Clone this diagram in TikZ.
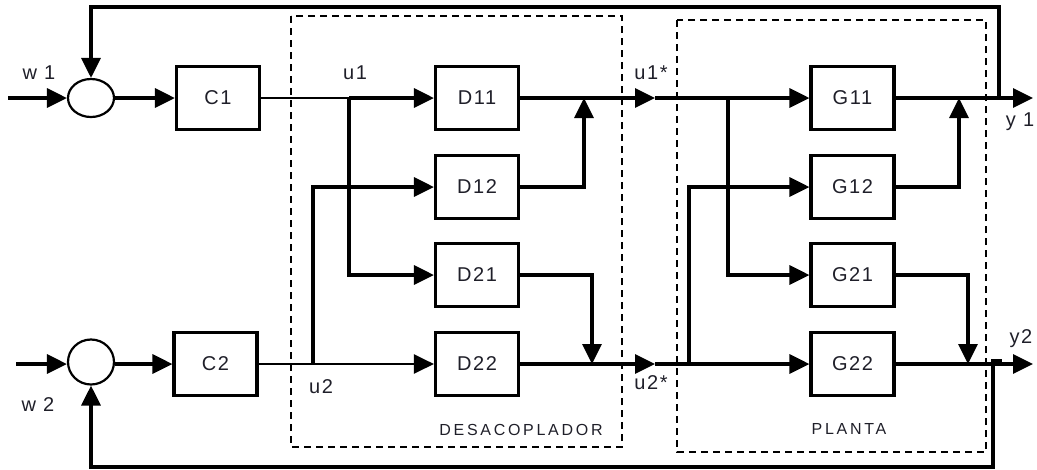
\documentclass[tikz,border=0pt]{standalone}
\usepackage{fontspec}
\setmainfont{Liberation Sans}
\usetikzlibrary{arrows.meta,shapes.geometric}
\newcommand\lblfont{\fontsize{20}{22}\selectfont\addfontfeatures{LetterSpace=8}}
\newcommand\capfont{\fontsize{16}{18}\selectfont\addfontfeatures{LetterSpace=17}}
\definecolor{textc}{rgb}{0.12,0.12,0.16}
\begin{document}
\begin{tikzpicture}[x=1pt,y=-1pt,
  blk/.style={draw, line width=3.2pt, minimum width=83pt, minimum height=63pt, inner sep=0pt, font=\lblfont, text=textc},
  sumnode/.style={draw, ellipse, line width=2.2pt, minimum width=46pt, inner sep=0pt},
  lbl/.style={font=\lblfont, text=textc, inner sep=0pt},
  captxt/.style={font=\capfont, text=textc, inner sep=0pt},
  sig/.style={line width=3.2pt},
  thinsig/.style={line width=1.8pt},
  arr/.style={-{Triangle[length=20pt,width=19pt]}},
  grp/.style={draw, dash pattern=on 7pt off 5pt, line width=2.2pt}
]
\useasboundingbox (0,0) rectangle (1037,469);

% dashed groups
\draw[grp] (291,16) rectangle (622,447);
\draw[grp] (677,20) rectangle (986,452);
\node[captxt] (desac) at (521,430) {DESACOPLADOR};
\node[captxt] (planta) at (849,429) {PLANTA};

% summing junctions
\node[sumnode, minimum height=38pt] (s1) at (91,98) {};
\node[sumnode, minimum height=45pt] (s2) at (91,362) {};

% controllers
\node[blk] (C1) at (218,98) {C1};
\node[blk] (C2) at (215.5,364) {C2};

% decoupler
\node[blk] (D11) at (477,98) {D11};
\node[blk] (D12) at (477,187) {D12};
\node[blk] (D21) at (477,275) {D21};
\node[blk] (D22) at (477,364) {D22};

% plant
\node[blk] (G11) at (852.5,98) {G11};
\node[blk] (G12) at (852.5,187) {G12};
\node[blk] (G21) at (852.5,275) {G21};
\node[blk] (G22) at (852.5,364) {G22};

% labels
\node[lbl] (lw1) at (39,73) {w 1};
\node[lbl] (lw2) at (38,405) {w 2};
\node[lbl] (lu1) at (355,73) {u1};
\node[lbl] (lu2) at (321,387) {u2};
\node[lbl] (lu1s) at (651,73) {u1*};
\node[lbl] (lu2s) at (651,383) {u2*};
\node[lbl] (ly1) at (1020,122) {y 1};
\node[lbl] (ly2) at (1021,339) {y2};

% coordinates
\coordinate (w1in) at (8,98);
\coordinate (w2in) at (16,364);
\coordinate (u1j) at (349,98);
\coordinate (u2j) at (313,364);
\coordinate (jA) at (584,98);
\coordinate (jB) at (592,364);
\coordinate (u1s) at (655,98);
\coordinate (u2s) at (655,364);
\coordinate (g1j) at (728,98);
\coordinate (g2j) at (689,364);
\coordinate (jC) at (959,98);
\coordinate (jD) at (968,364);
\coordinate (y1end) at (1033,98);
\coordinate (y2end) at (1033,364);
\coordinate (y1tap) at (999,98);
\coordinate (tc) at (999,7);
\coordinate (y2tap) at (1002,361);
\coordinate (y2c) at (993,361);
\coordinate (bc) at (993,467);

% inputs
\draw[sig,arr] (w1in) -- (s1.west);
\draw[sig,arr] (w2in) -- (s2.west |- w2in);
\draw[sig,arr] (s1.east) -- (C1.west);
\draw[sig,arr] (s2.east |- C2.west) -- (C2.west);

% controller outputs
\draw[line width=2.4pt] (C1.east) -- (u1j);
\draw[sig,arr] (u1j) -- (D11.west);
\draw[thinsig] (C2.east) -- (u2j);
\draw[line width=2.8pt,arr] (u2j) -- (D22.west);
\draw[sig,arr] (u1j) |- (D21.west);
\draw[sig,arr] (u2j) |- (D12.west);

% decoupler outputs
\draw[sig,arr] (D11.east) -- (u1s);
\draw[sig,arr] (u1s) -- (G11.west);
\draw[sig,arr] (D12.east) -| (jA);
\draw[sig,arr] (D21.east) -| (jB);
\draw[sig,arr] (D22.east) -- (u2s);
\draw[sig,arr] (u2s) -- (G22.west);

% plant inputs
\draw[sig,arr] (g1j) |- (G21.west);
\draw[sig,arr] (g2j) |- (G12.west);

% plant outputs
\draw[sig,arr] (G11.east) -- (y1end);
\draw[sig,arr] (G12.east) -| (jC);
\draw[sig,arr] (G21.east) -| (jD);
\draw[sig,arr] (G22.east) -- (y2end);

% feedback
\draw[sig,arr] (y1tap) -- (tc) -| (s1.north);
\draw[sig,arr] (y2tap) -- (y2c) -- (bc) -| (s2.south);
\end{tikzpicture}
\end{document}
